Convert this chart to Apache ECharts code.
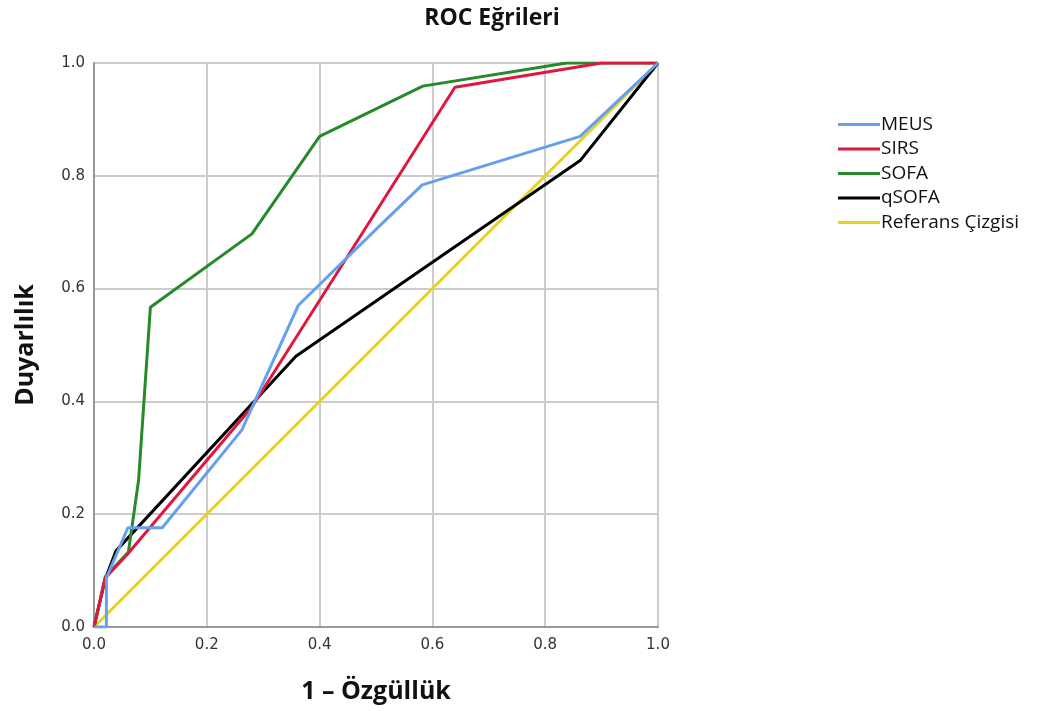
<!DOCTYPE html>
<html>
<head>
<meta charset="utf-8">
<script src="https://cdn.jsdelivr.net/npm/echarts@6/dist/echarts.min.js"></script>
<style>
html, body { margin: 0; padding: 0; background: #fff; }
#rocchart { width: 1055px; height: 711px; }
</style>
</head>
<body>
<div id="rocchart"></div>
<script>
// ROC curve points (x = 1 - specificity, y = sensitivity)
var meusX = [0, 0.022, 0.022, 0.06, 0.121, 0.262, 0.362, 0.505, 0.582, 0.862, 1];
var meusY = [0, 0, 0.087, 0.176, 0.176, 0.349, 0.57, 0.71, 0.784, 0.87, 1];
var sirsX = [0, 0.02, 0.06, 0.28, 0.64, 0.9, 1];
var sirsY = [0, 0.087, 0.13, 0.39, 0.957, 1, 1];
var sofaX = [0, 0.02, 0.061, 0.079, 0.1, 0.28, 0.4, 0.583, 0.838, 1];
var sofaY = [0, 0.089, 0.133, 0.26, 0.567, 0.697, 0.87, 0.959, 1, 1];
var qsofaX = [0, 0.02, 0.039, 0.358, 0.862, 1];
var qsofaY = [0, 0.085, 0.135, 0.48, 0.827, 1];
var refX = [0, 1];
var refY = [0, 1];

var seriesNames = ['MEUS', 'SIRS', 'SOFA', 'qSOFA', 'Referans Çizgisi'];
var seriesColors = ['#64a0ee', '#dd1940', '#268a2a', '#000000', '#e5d31e'];

function pairs(xs, ys) {
    var out = [];
    for (let i = 0; i < xs.length; i++) {
        out.push([xs[i], ys[i]]);
    }
    return out;
}

var curves = [
    pairs(meusX, meusY),
    pairs(sirsX, sirsY),
    pairs(sofaX, sofaY),
    pairs(qsofaX, qsofaY),
    pairs(refX, refY)
];

const rocChart = echarts.init(document.getElementById('rocchart'));
var option = {
    animation: false,
    color: seriesColors,
    title: {
        text: 'ROC Eğrileri',
        left: 487,
        textAlign: 'center',
        top: 2,
        textStyle: {
            fontFamily: 'Open Sans',
            fontSize: 23,
            fontWeight: 'bold',
            color: '#111'
        }
    },
    legend: {
        orient: 'vertical',
        left: 833,
        top: 110,
        itemWidth: 42,
        itemHeight: 16,
        itemGap: 5.5,
        icon: 'path://M0,6.5 L42,6.5 L42,9.5 L0,9.5 Z',
        textStyle: {
            fontFamily: 'Open Sans',
            fontSize: 19,
            color: '#111',
            padding: [0, 0, 0, -4]
        },
        data: seriesNames
    },
    grid: {
        left: 94,
        right: 397,
        top: 63,
        bottom: 84,
        outerBoundsMode: 'none'
    },
    xAxis: {
        type: 'value',
        min: 0,
        max: 1,
        interval: 0.2,
        name: '1 – Özgüllük',
        nameLocation: 'middle',
        nameGap: 52,
        nameTextStyle: {
            fontFamily: 'Open Sans',
            fontSize: 25,
            fontWeight: 'bold',
            color: '#111'
        },
        axisLine: { lineStyle: { color: '#999', width: 2 } },
        axisTick: { show: false },
        axisLabel: {
            fontFamily: 'DejaVu Sans',
            fontSize: 15,
            color: '#333',
            margin: 11,
            formatter: function (v) { return v.toFixed(1); }
        },
        splitLine: { lineStyle: { color: '#cccccc', width: 2 } }
    },
    yAxis: {
        type: 'value',
        min: 0,
        max: 1,
        interval: 0.2,
        name: 'Duyarlılık',
        nameLocation: 'middle',
        nameGap: 56,
        nameTextStyle: {
            fontFamily: 'Open Sans',
            fontSize: 25,
            fontWeight: 'bold',
            color: '#111'
        },
        axisLine: { show: true, lineStyle: { color: '#999', width: 2 } },
        axisTick: { show: false },
        axisLabel: {
            fontFamily: 'DejaVu Sans',
            fontSize: 15,
            color: '#333',
            margin: 9,
            formatter: function (v) { return v.toFixed(1); }
        },
        splitLine: { lineStyle: { color: '#cccccc', width: 2 } }
    },
    series: seriesNames.map(function (name, i) {
        return {
            name: name,
            type: 'line',
            data: curves[i],
            symbol: 'none',
            z: 10 - i,
            lineStyle: { width: 3, color: seriesColors[i] }
        };
    })
};
option && rocChart.setOption(option);
</script>
</body>
</html>
